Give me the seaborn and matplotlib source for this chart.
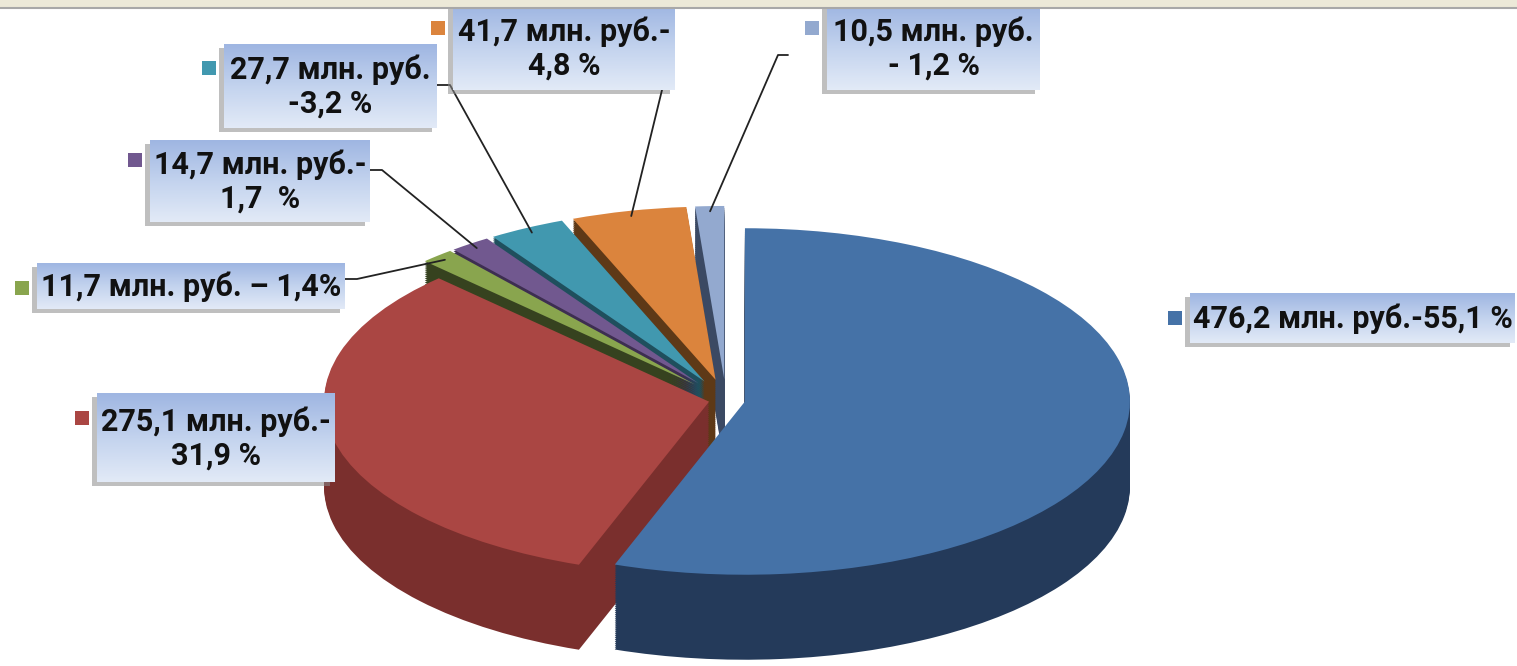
import numpy as np
import matplotlib
matplotlib.use('Agg')
import matplotlib.pyplot as plt
import seaborn as sns
from matplotlib.colors import LinearSegmentedColormap
from matplotlib.patches import Rectangle

# данные диаграммы
amounts = ['476,2', '275,1', '11,7', '14,7', '27,7', '41,7', '10,5']
shares = [55.1, 31.9, 1.4, 1.7, 3.2, 4.8, 1.2]
labels = [
    '476,2 млн. руб.-55,1 %',
    '275,1 млн. руб.-\n31,9 %',
    '11,7 млн. руб. – 1,4%',
    '14,7 млн. руб.-\n1,7  %',
    '27,7 млн. руб.\n-3,2 %',
    '41,7 млн. руб.-\n4,8 %',
    '10,5 млн. руб.\n- 1,2 %',
]
top_colors = ['#4572a7', '#aa4643', '#89a54e', '#71588f', '#4198af', '#db843d', '#93a9cf']
side_colors = ['#243a5a', '#7a2f2d', '#36421f', '#3d2e51', '#1f4f5d', '#5e3917', '#3b4963']
explode = [0.05, 0.045, 0.12, 0.12, 0.12, 0.12, 0.12]

# расположение подписей (пиксели): рамка x0, y0, x1, y1
boxes = [
    (1190, 293, 1515, 343),
    (97, 393, 335, 482),
    (37, 263, 345, 309),
    (150, 140, 370, 222),
    (224, 44, 437, 128),
    (453, 5, 675, 90),
    (827, 5, 1040, 90),
]
key_y = [318, 418, 288, 160, 68, 28, 28]
leaders = [None, None,
           [(345, 279), (357, 279)],
           [(370, 170), (382, 170)],
           [(437, 85), (450, 85)],
           [(662, 90)],
           [(788, 55), (778, 55)]]

sns.set_theme(style='white')
plt.rcParams['font.family'] = ['Roboto', 'DejaVu Sans']

W, H = 1517, 666
fig = plt.figure(figsize=(W / 100, H / 100), dpi=100)
ax = fig.add_axes([0, 0, 1, 1])

s = 0.45          # сжатие по вертикали (наклон)
R = 385
cx, cpy = 726, 400
cy = (H - cpy) / s
depth = 85 / s
expl = [e * R for e in explode]

# боковые стенки - слои пирога со сдвигом вниз
for off in np.linspace(depth, 0, 45)[:-1]:
    ax.pie(shares, colors=side_colors, explode=expl, radius=R,
           center=(cx, cy - off), startangle=90, counterclock=False,
           wedgeprops={'linewidth': 0}, frame=True)
# верхняя грань
ax.pie(shares, colors=top_colors, explode=expl, radius=R,
       center=(cx, cy), startangle=90, counterclock=False,
       wedgeprops={'linewidth': 0}, frame=True)
ax.set_xlim(0, W)
ax.set_ylim(0, H / s)
ax.set_aspect('auto')
ax.axis('off')

# слой для подписей в пикселях
ov = fig.add_axes([0, 0, 1, 1])
ov.patch.set_alpha(0)

grad = np.linspace(0, 1, 64).reshape(-1, 1)
cmap = LinearSegmentedColormap.from_list('box', ['#9fb6e2', '#c3d3ee', '#e2eaf7'])

total = sum(shares)
start = 0.0
for i, sh in enumerate(shares):
    mid = start + 360 * sh / total / 2
    start += 360 * sh / total
    a = np.radians(90 - mid)
    ex = cx + expl[i] * np.cos(a)
    ey = cy + expl[i] * np.sin(a)
    tx = ex + R * 0.97 * np.cos(a)
    ty = H - (ey + R * 0.97 * np.sin(a)) * s

    x0, y0, x1, y1 = boxes[i]
    ov.add_patch(Rectangle((x0 - 5, y0 + 4), x1 - x0, y1 - y0,
                           color='#8c8c8c', alpha=0.55, lw=0))
    ov.imshow(grad, extent=(x0, x1, y1, y0), cmap=cmap, aspect='auto',
              interpolation='bilinear', zorder=2)
    ov.text((x0 + x1) / 2, (y0 + y1) / 2 + 1, labels[i], ha='center', va='center',
            fontsize=22, fontweight='bold', color='#111111',
            linespacing=1.15, multialignment='center', zorder=3)
    ov.add_patch(Rectangle((x0 - 22, key_y[i] - 7), 14, 14,
                           color=top_colors[i], lw=0, zorder=3))
    if leaders[i] is not None:
        pts = leaders[i] + [(tx, ty)]
        ov.plot([p[0] for p in pts], [p[1] for p in pts], color='#222222', lw=1.3, zorder=1)

# полоса сверху
ov.add_patch(Rectangle((0, 0), W, 7, color='#ece9d8', lw=0, zorder=4))
ov.plot([0, W], [7.5, 7.5], color='#a8a8a8', lw=1.5, zorder=4)

ov.set_xlim(0, W)
ov.set_ylim(H, 0)
ov.set_aspect('auto')
ov.axis('off')

fig.savefig('out.png', dpi=100)
